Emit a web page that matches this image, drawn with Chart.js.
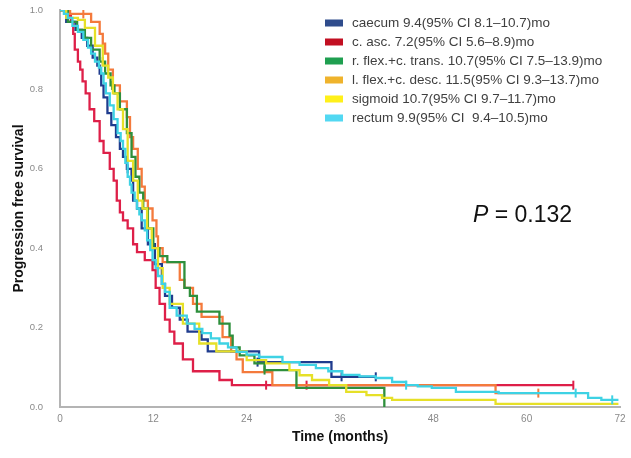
<!DOCTYPE html>
<html>
<head>
<meta charset="utf-8">
<script src="https://cdn.jsdelivr.net/npm/chart.js@4.4.0/dist/chart.umd.min.js"></script>
<style>
  html, body { margin: 0; padding: 0; background: #fff; }
  #wrap { width: 631px; height: 458px; }
</style>
</head>
<body>
<div id="wrap"><canvas id="pfsChart" width="631" height="458"></canvas></div>
<script>
// Axis ticks
const timeTicks = [0, 12, 24, 36, 48, 60, 72];
const survivalTicks = [0, 0.2, 0.4, 0.6, 0.8, 1.0];

// Kaplan-Meier steps (time in months, survival after the step)
const caecumT = [0, 0.8, 2.0, 2.8, 3.5, 4.2, 4.8, 5.1, 5.3, 5.6, 6.1, 6.6, 7.2, 7.7, 8.1, 8.6, 9.2, 9.4, 9.9, 10.5, 11.3, 12.2, 13.1, 13.5, 14.4, 15.4, 16.4, 18.2, 19.0, 25.6, 34.9, 40.6];
const caecumS = [1.0, 0.97, 0.95, 0.93, 0.91, 0.88, 0.86, 0.84, 0.81, 0.78, 0.74, 0.71, 0.68, 0.65, 0.63, 0.60, 0.57, 0.52, 0.50, 0.45, 0.41, 0.36, 0.31, 0.28, 0.25, 0.22, 0.19, 0.17, 0.14, 0.113, 0.076, 0.076];

const cAscT = [0, 1.0, 1.4, 1.7, 1.9, 2.3, 2.6, 2.9, 3.3, 3.8, 4.4, 5.1, 5.6, 6.4, 6.9, 7.3, 7.7, 8.1, 8.7, 9.4, 9.9, 10.9, 11.9, 12.3, 12.8, 13.5, 14.1, 14.7, 15.8, 17.1, 20.5, 22.1, 66.0];
const cAscS = [1.0, 0.985, 0.97, 0.94, 0.90, 0.87, 0.85, 0.82, 0.79, 0.75, 0.72, 0.67, 0.64, 0.60, 0.57, 0.52, 0.49, 0.47, 0.45, 0.41, 0.39, 0.37, 0.345, 0.30, 0.26, 0.22, 0.19, 0.16, 0.12, 0.09, 0.068, 0.055, 0.055];

const rFlexT = [0, 1.0, 2.2, 3.2, 4.0, 5.1, 5.8, 6.5, 7.0, 7.7, 8.6, 9.2, 9.7, 10.2, 10.7, 11.3, 12.0, 12.8, 13.8, 16.0, 16.7, 17.6, 20.5, 21.8, 22.2, 23.1, 25.0, 26.3, 30.4, 41.7];
const rFlexS = [1.0, 0.97, 0.95, 0.93, 0.90, 0.87, 0.84, 0.81, 0.79, 0.75, 0.69, 0.63, 0.58, 0.54, 0.50, 0.45, 0.40, 0.38, 0.365, 0.30, 0.28, 0.24, 0.21, 0.18, 0.15, 0.13, 0.11, 0.093, 0.048, 0.0];

const lFlexT = [0, 1.3, 4.0, 5.1, 5.5, 5.8, 6.2, 6.8, 7.7, 8.6, 9.0, 9.4, 10.0, 10.5, 10.9, 11.3, 11.9, 12.4, 12.6, 13.2, 15.4, 16.0, 17.1, 18.2, 20.9, 22.0, 22.7, 23.5, 27.3, 56.0, 61.5];
const lFlexS = [1.0, 0.99, 0.97, 0.94, 0.915, 0.89, 0.85, 0.81, 0.77, 0.73, 0.68, 0.65, 0.60, 0.555, 0.52, 0.50, 0.47, 0.43, 0.40, 0.365, 0.32, 0.30, 0.26, 0.227, 0.176, 0.14, 0.12, 0.088, 0.055, 0.035, 0.035];

const sigmoidT = [0, 0.8, 2.3, 3.2, 4.5, 5.5, 6.2, 6.8, 7.4, 8.1, 8.7, 9.4, 10.0, 10.6, 11.2, 11.8, 12.6, 13.2, 14.1, 15.8, 17.9, 20.1, 24.0, 26.5, 29.5, 30.8, 32.4, 34.6, 36.8, 39.4, 41.4, 42.7, 56.0, 71.8];
const sigmoidS = [1.0, 0.98, 0.975, 0.955, 0.91, 0.86, 0.83, 0.79, 0.75, 0.70, 0.62, 0.57, 0.52, 0.50, 0.45, 0.40, 0.35, 0.30, 0.26, 0.21, 0.16, 0.14, 0.118, 0.11, 0.093, 0.08, 0.068, 0.055, 0.038, 0.03, 0.023, 0.018, 0.008, 0.008];

const rectumT = [0, 0.5, 1.0, 1.6, 2.3, 3.0, 3.6, 4.0, 4.5, 5.0, 5.3, 5.6, 5.9, 6.4, 6.9, 7.4, 7.8, 8.1, 8.4, 8.7, 9.0, 9.2, 9.6, 9.9, 10.2, 10.5, 10.9, 11.2, 11.6, 11.9, 12.3, 12.6, 13.1, 13.5, 14.1, 15.0, 16.3, 17.3, 18.3, 19.4, 20.5, 21.6, 22.7, 24.0, 25.6, 28.6, 30.8, 32.9, 34.5, 36.3, 38.5, 40.6, 42.7, 44.5, 46.0, 47.8, 50.9, 56.4, 67.9, 69.6, 71.8];
const rectumS = [1.0, 0.99, 0.98, 0.96, 0.945, 0.925, 0.905, 0.89, 0.87, 0.855, 0.84, 0.815, 0.79, 0.76, 0.725, 0.69, 0.67, 0.65, 0.615, 0.58, 0.56, 0.54, 0.52, 0.50, 0.485, 0.47, 0.445, 0.42, 0.395, 0.37, 0.35, 0.33, 0.31, 0.29, 0.25, 0.23, 0.21, 0.197, 0.186, 0.173, 0.16, 0.15, 0.139, 0.132, 0.126, 0.113, 0.106, 0.098, 0.09, 0.081, 0.077, 0.073, 0.063, 0.055, 0.052, 0.048, 0.038, 0.035, 0.023, 0.018, 0.018];

// Censoring marks
const caecumCensT = [8.7, 25.4, 36.2, 40.6];
const caecumCensS = [0.60, 0.113, 0.076, 0.076];
const cAscCensT = [26.5, 31.7, 66.0];
const cAscCensS = [0.055, 0.055, 0.055];
const rFlexCensT = [5.5, 6.7, 26.3];
const rFlexCensS = [0.87, 0.81, 0.093];
const lFlexCensT = [3.0, 61.5];
const lFlexCensS = [0.99, 0.035];
const rectumCensT = [44.5, 66.3, 71.0];
const rectumCensS = [0.055, 0.035, 0.018];

const groupLabels = [
    'caecum 9.4(95% CI 8.1\u201310.7)mo',
    'c. asc. 7.2(95% CI 5.6\u20138.9)mo',
    'r. flex.+c. trans. 10.7(95% CI 7.5\u201313.9)mo',
    'l. flex.+c. desc. 11.5(95% CI 9.3\u201313.7)mo',
    'sigmoid 10.7(95% CI 9.7\u201311.7)mo',
    'rectum 9.9(95% CI  9.4\u201310.5)mo'
];
const lineColors = ['#1f3c8e', '#de1f48', '#2e8f3c', '#f47a3c', '#e6e028', '#3ed2e4'];
const legendColors = ['#2f4c8c', '#c20f22', '#1f9f50', '#efb32c', '#fff01a', '#52d8f2'];
const drawOrder = [3, 5, 2, 4, 1, 0]; // lower = drawn on top

const curveT = [caecumT, cAscT, rFlexT, lFlexT, sigmoidT, rectumT];
const curveS = [caecumS, cAscS, rFlexS, lFlexS, sigmoidS, rectumS];
const censT = [caecumCensT, cAscCensT, rFlexCensT, lFlexCensT, [], rectumCensT];
const censS = [caecumCensS, cAscCensS, rFlexCensS, lFlexCensS, [], rectumCensS];

const toPoints = (ts, ss) => ts.map((t, i) => ({ x: t, y: ss[i] }));

const datasets = [];
groupLabels.forEach((label, i) => {
    datasets.push({
        label: label,
        data: toPoints(curveT[i], curveS[i]),
        borderColor: lineColors[i],
        borderWidth: 2.3,
        stepped: true,
        pointRadius: 0,
        fill: false,
        order: drawOrder[i]
    });
    if (censT[i].length) {
        datasets.push({
            label: label + ' censored',
            data: toPoints(censT[i], censS[i]),
            showLine: false,
            borderColor: lineColors[i],
            pointStyle: 'line',
            rotation: 90,
            pointRadius: 4.5,
            pointBorderWidth: 2,
            order: drawOrder[i]
        });
    }
});

// Legend drawn inside the plot, top right
const legendPlugin = {
    id: 'boxLegend',
    afterDraw(chart) {
        const ctx = chart.ctx;
        ctx.save();
        ctx.font = '13.5px "Liberation Sans", Arial, sans-serif';
        ctx.textBaseline = 'middle';
        ctx.textAlign = 'left';
        groupLabels.forEach((label, i) => {
            const y = 23 + i * 19;
            ctx.fillStyle = legendColors[i];
            ctx.fillRect(325, y - 3.5, 18, 7);
            ctx.fillStyle = '#404040';
            ctx.fillText(label, 352, y);
        });
        ctx.restore();
    }
};

// P value annotation
const pValuePlugin = {
    id: 'pValue',
    afterDraw(chart) {
        const ctx = chart.ctx;
        ctx.save();
        ctx.fillStyle = '#111';
        ctx.textBaseline = 'alphabetic';
        ctx.font = 'italic 23px "Liberation Sans", Arial, sans-serif';
        ctx.fillText('P', 473, 222);
        const w = ctx.measureText('P').width;
        ctx.font = '23px "Liberation Sans", Arial, sans-serif';
        ctx.fillText(' = 0.132', 473 + w, 222);
        ctx.restore();
    }
};

new Chart(document.getElementById('pfsChart').getContext('2d'), {
    type: 'line',
    data: { datasets: datasets },
    options: {
        responsive: false,
        animation: false,
        devicePixelRatio: 1,
        layout: { padding: { top: 10, right: 11, left: 0, bottom: 0 } },
        plugins: {
            legend: { display: false },
            tooltip: { enabled: false }
        },
        scales: {
            x: {
                type: 'linear',
                min: 0,
                max: 72,
                afterBuildTicks: (scale) => { scale.ticks = timeTicks.map(v => ({ value: v })); },
                afterFit: (scale) => { scale.height = 51; scale.paddingLeft = 0; scale.paddingRight = 0; },
                grid: { display: false, drawTicks: false },
                border: { display: true, color: '#b4b4b4', width: 2 },
                ticks: { color: '#8a8a8a', font: { size: 10, family: 'Liberation Sans' }, padding: 6, maxRotation: 0 },
                title: {
                    display: true,
                    text: 'Time (months)',
                    color: '#111',
                    font: { size: 14, weight: 'bold', family: 'Liberation Sans' },
                    padding: { top: 0, bottom: 12 }
                }
            },
            y: {
                min: 0,
                max: 1,
                afterBuildTicks: (scale) => { scale.ticks = survivalTicks.map(v => ({ value: v })); },
                afterFit: (scale) => { scale.width = 60; scale.paddingTop = 0; scale.paddingBottom = 0; },
                grid: { display: false, drawTicks: false },
                border: { display: true, color: '#b4b4b4', width: 2 },
                ticks: {
                    color: '#8a8a8a',
                    font: { size: 9.5, family: 'Liberation Sans' },
                    padding: 17,
                    callback: (v) => Number(v).toFixed(1)
                },
                title: {
                    display: true,
                    text: 'Progression free survival',
                    color: '#111',
                    font: { size: 14, weight: 'bold', family: 'Liberation Sans' },
                    padding: { top: 11, bottom: 0 }
                }
            }
        }
    },
    plugins: [legendPlugin, pValuePlugin]
});
</script>
</body>
</html>
